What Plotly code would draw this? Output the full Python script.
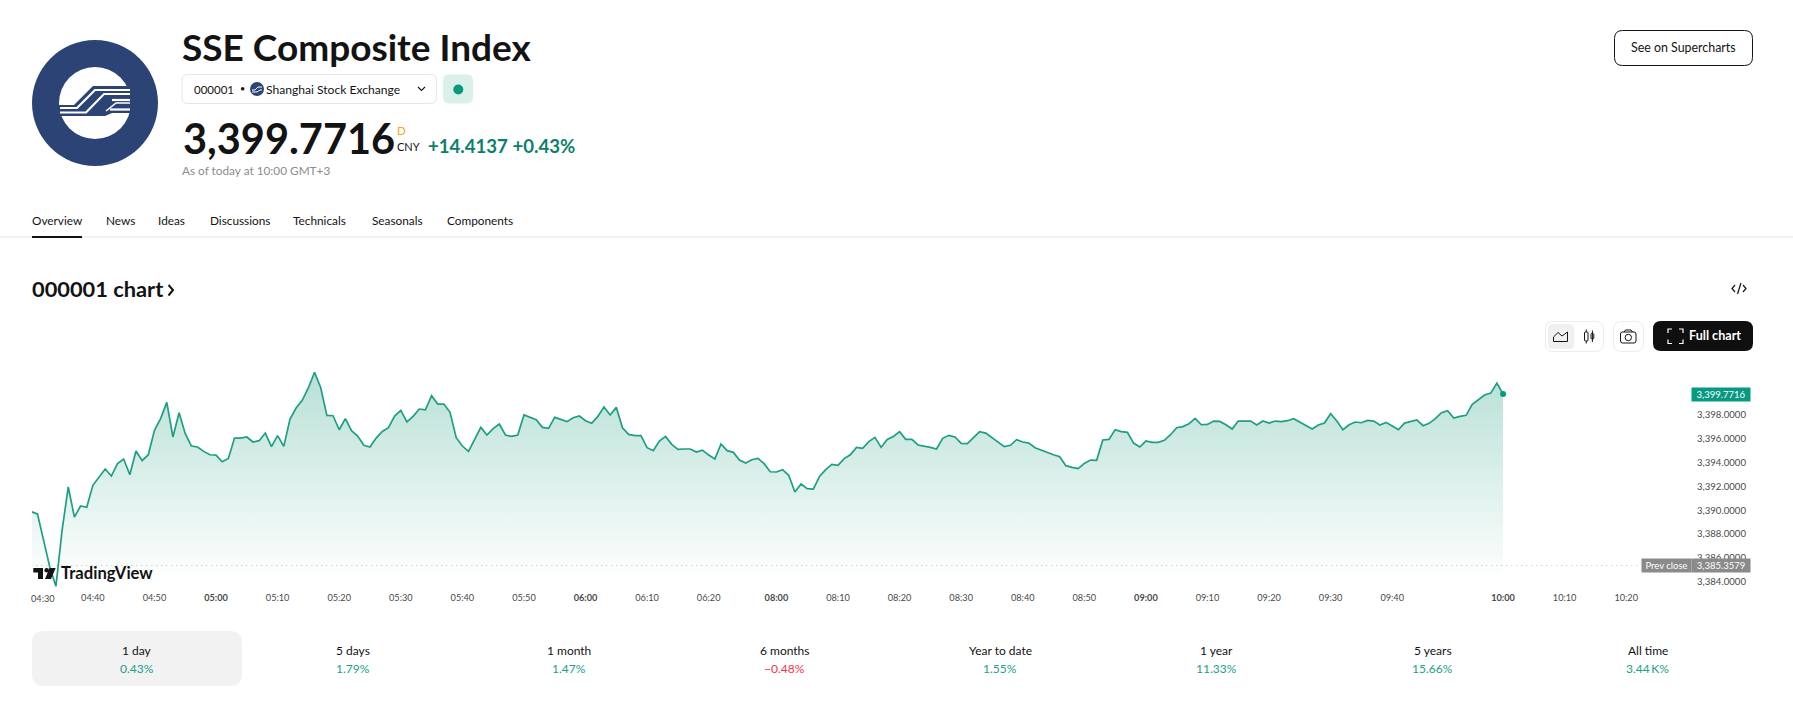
import plotly.graph_objects as go

W, H = 1793, 713

# one close per traded minute, 04:30 to 10:00 GMT+3 (lunch break is skipped by the bar axis)
closes = [
    3389.88, 3389.69, 3387.47, 3385.23, 3383.61, 3388.31, 3391.96, 3389.43, 3390.36, 3390.25,
    3392.10, 3392.80, 3393.47, 3392.88, 3393.92, 3394.31, 3392.99, 3394.98, 3394.17, 3394.67,
    3396.72, 3397.70, 3399.07, 3396.16, 3398.20, 3396.44, 3395.40, 3395.32, 3394.95, 3394.67,
    3394.64, 3394.08, 3394.36, 3396.07, 3396.07, 3396.16, 3395.74, 3395.85, 3396.49, 3395.35,
    3396.27, 3395.37, 3397.64, 3398.59, 3399.24, 3400.30, 3401.59, 3400.30, 3397.98, 3397.95,
    3396.77, 3397.70, 3396.69, 3396.24, 3395.46, 3395.32, 3396.07, 3396.63, 3396.94, 3397.92,
    3398.40, 3397.42, 3397.89, 3398.51, 3398.45, 3399.63, 3398.93, 3398.93, 3398.23, 3396.10,
    3395.40, 3394.95, 3395.93, 3396.97, 3396.33, 3396.86, 3397.25, 3396.33, 3396.21, 3396.33,
    3398.01, 3397.78, 3397.61, 3396.97, 3396.89, 3397.81, 3397.64, 3397.45, 3397.78, 3397.92,
    3397.53, 3397.31, 3397.89, 3398.68, 3398.01, 3398.65, 3396.94, 3396.38, 3396.27, 3396.27,
    3395.26, 3395.01, 3395.82, 3396.21, 3395.54, 3395.12, 3395.15, 3395.15, 3394.90, 3395.06,
    3394.64, 3394.31, 3395.57, 3395.01, 3394.87, 3394.22, 3393.97, 3394.25, 3394.36, 3393.92,
    3393.24, 3393.22, 3393.41, 3392.94, 3391.54, 3392.21, 3391.82, 3391.79, 3392.85, 3393.41,
    3393.86, 3393.78, 3394.34, 3394.67, 3395.29, 3395.20, 3395.77, 3396.13, 3395.29, 3395.96,
    3396.21, 3396.61, 3395.96, 3395.96, 3395.49, 3395.40, 3395.29, 3395.15, 3396.05, 3396.30,
    3396.16, 3395.63, 3395.60, 3396.10, 3396.61, 3396.49, 3396.13, 3395.71, 3395.35, 3395.46,
    3395.93, 3395.74, 3395.65, 3395.26, 3395.04, 3394.84, 3394.67, 3394.50, 3393.75, 3393.61,
    3393.50, 3393.94, 3394.22, 3394.20, 3395.91, 3395.96, 3396.77, 3396.61, 3396.55, 3395.65,
    3395.32, 3395.82, 3395.71, 3395.71, 3395.88, 3396.35, 3396.94, 3397.03, 3397.28, 3397.73,
    3397.19, 3397.22, 3397.50, 3397.47, 3397.19, 3396.83, 3397.50, 3397.50, 3397.50, 3397.17,
    3397.50, 3397.33, 3397.50, 3397.45, 3397.53, 3397.70, 3397.42, 3397.11, 3396.83, 3397.17,
    3397.33, 3398.12, 3397.50, 3396.77, 3397.19, 3397.42, 3397.36, 3397.56, 3397.50, 3397.17,
    3397.39, 3397.08, 3396.77, 3397.33, 3397.45, 3397.59, 3397.11, 3397.31, 3397.70, 3398.20,
    3398.37, 3397.75, 3397.89, 3397.98, 3398.90, 3399.29, 3399.69, 3399.85, 3400.69, 3399.7716,
]
prev_close = 3385.3579

tick_bars = [10, 20, 30, 40, 50, 60, 70, 80, 90, 100, 110, 121, 131, 141, 151, 161, 171, 181,
             191, 201, 211, 221, 239, 249, 259]
tick_labels = ['04:40', '04:50', '<b>05:00</b>', '05:10', '05:20', '05:30', '05:40', '05:50',
               '<b>06:00</b>', '06:10', '06:20', '<b>08:00</b>', '08:10', '08:20', '08:30', '08:40',
               '08:50', '<b>09:00</b>', '09:10', '09:20', '09:30', '09:40', '<b>10:00</b>', '10:10', '10:20']
price_ticks = [3384, 3386, 3388, 3390, 3392, 3394, 3396, 3398, 3400]

tab_names = ['Overview', 'News', 'Ideas', 'Discussions', 'Technicals', 'Seasonals', 'Components']
tab_left = [32, 106, 158, 210, 293, 372, 447]
period_names = ['1 day', '5 days', '1 month', '6 months', 'Year to date', '1 year', '5 years', 'All time']
period_vals = ['0.43%', '1.79%', '1.47%', '−0.48%', '1.55%', '11.33%', '15.66%', '3.44\u2009K%']
period_x = [136.6, 353, 569, 784.7, 1000, 1216.6, 1432.5, 1647.7]

FONT = 'Lato'
INK = '#131313'
GREEN = '#089981'
NAVY = '#2b4475'

# bar axis is linear in pixels: px = 31.3 + 6.158 * bar
PLOT_L, PLOT_R, PLOT_T, PLOT_B = 32, 1696, 345, 587
bar_of = lambda px: (px - 31.3) / 6.158
val_of = lambda py: 3398 - (py - 415.1) / 11.9
fx = lambda px: px / W
fy = lambda py: 1 - py / H

bars = list(range(len(closes)))
y_low, y_high = val_of(PLOT_B), val_of(PLOT_T)

fig = go.Figure()
fig.add_trace(go.Scatter(x=bars, y=[y_low] * len(bars), mode='lines', line=dict(width=0), showlegend=False))
fig.add_trace(go.Scatter(
    x=bars, y=closes, mode='lines', line=dict(width=0), fill='tonexty', showlegend=False,
    fillgradient=dict(type='vertical', start=val_of(582), stop=val_of(345),
                      colorscale=[[0, '#ffffff'], [1, '#aedcd0']]),
    ))
fig.add_trace(go.Scatter(
    x=[0, bar_of(1641)], y=[prev_close, prev_close], mode='lines',
    line=dict(width=1, color='#bdbdbd', dash='1px,4px'), showlegend=False,
    ))
fig.add_trace(go.Scatter(x=bars, y=closes, mode='lines', line=dict(width=1.7, color='#1f9e86'), showlegend=False))
fig.add_trace(go.Scatter(
    x=[bars[-1]], y=[closes[-1]], mode='markers', marker=dict(size=6, color=GREEN), showlegend=False,
    ))

annots = []
def text(s, x, y, size, color=INK, anchor='left', weight=400):
    # annotations carry a little padding on the left
    annots.append(dict(
        text=s, x=fx(x - 2 if anchor == 'left' else x), y=fy(y), xref='paper', yref='paper', xanchor=anchor, yanchor='middle',
        showarrow=False, font=dict(family=FONT, size=size, color=color, weight=weight),
        ))

def tag(s, value, left, right, color):
    annots.append(dict(
        text=s, x=fx(left), y=value, xref='paper', yref='y', xanchor='left', yanchor='middle',
        width=right - left, height=13, bgcolor=color, borderpad=0, align='center', showarrow=False,
        font=dict(family=FONT, size=9.5, color='#ffffff'),
        ))

shapes = []
def poly(pts, fill=None, stroke=None, lw=1, close=True, layer='above'):
    d = 'M' + ' L'.join(f'{fx(x):.5f},{fy(y):.5f}' for x, y in pts) + (' Z' if close else '')
    shapes.append(dict(
        type='path', path=d, xref='paper', yref='paper', layer=layer,
        fillcolor=fill or 'rgba(0,0,0,0)', line=dict(color=stroke or 'rgba(0,0,0,0)', width=lw if stroke else 0),
        ))

def disc(cx, cy, r, fill=None, stroke=None, lw=1):
    shapes.append(dict(
        type='circle', xref='paper', yref='paper', layer='above',
        x0=fx(cx - r), x1=fx(cx + r), y0=fy(cy + r), y1=fy(cy - r),
        fillcolor=fill or 'rgba(0,0,0,0)', line=dict(color=stroke or 'rgba(0,0,0,0)', width=lw if stroke else 0),
        ))

def rrect(x0, y0, x1, y1, r, fill=None, stroke=None, lw=1):
    X0, X1, Y0, Y1 = fx(x0), fx(x1), fy(y0), fy(y1)
    rx, ry = r / W, r / H
    d = (f'M{X0 + rx:.5f},{Y0:.5f} L{X1 - rx:.5f},{Y0:.5f} Q{X1:.5f},{Y0:.5f} {X1:.5f},{Y0 - ry:.5f} '
         f'L{X1:.5f},{Y1 + ry:.5f} Q{X1:.5f},{Y1:.5f} {X1 - rx:.5f},{Y1:.5f} '
         f'L{X0 + rx:.5f},{Y1:.5f} Q{X0:.5f},{Y1:.5f} {X0:.5f},{Y1 + ry:.5f} '
         f'L{X0:.5f},{Y0 - ry:.5f} Q{X0:.5f},{Y0:.5f} {X0 + rx:.5f},{Y0:.5f} Z')
    shapes.append(dict(
        type='path', path=d, xref='paper', yref='paper', layer='above',
        fillcolor=fill or 'rgba(0,0,0,0)', line=dict(color=stroke or 'rgba(0,0,0,0)', width=lw if stroke else 0),
        ))

# SSE logo
disc(95, 103, 63, NAVY)
disc(95, 103, 36, '#ffffff')
poly([(59, 105), (74, 105), (93, 86), (131, 86), (131, 113), (112, 113), (105, 116), (59, 116)], NAVY)
poly([(60, 108), (77, 108), (95, 90), (130, 90)], stroke='#ffffff', lw=2.2, close=False)
poly([(60, 112.5), (86, 112.5), (104, 94), (130, 94)], stroke='#ffffff', lw=2.2, close=False)
poly([(112, 100), (130, 100)], stroke='#ffffff', lw=2.2, close=False)
poly([(106, 111), (116, 103), (130, 103)], stroke='#ffffff', lw=1.6, close=False)
poly([(110, 109.5), (130, 109.5)], stroke='#ffffff', lw=2.2, close=False)

# header
text('SSE Composite Index', 182, 47, 37, INK, weight=700)
rrect(182, 74.5, 436.5, 103.5, 6, '#ffffff', '#e6e6e6')
text('000001', 194, 89, 11.5)
text('•', 240, 88.5, 9)
disc(257, 89, 7, NAVY)
poly([(252, 90), (255, 90), (258, 87), (262, 87)], stroke='#ffffff', lw=1, close=False)
poly([(252, 92), (257, 92), (260, 90), (262, 90)], stroke='#ffffff', lw=1, close=False)
text('Shanghai Stock Exchange', 266, 89, 12.1)
poly([(418, 87), (421.5, 90.5), (425, 87)], stroke=INK, lw=1.1, close=False)
rrect(443, 74.5, 473, 103.5, 6, '#daf0ea')
disc(458.3, 89.5, 5, GREEN)
text('3,399.7716', 183, 138, 41.5, INK, weight=700)
text('D', 397, 130, 11.5, '#f5a623')
text('CNY', 397, 147, 11)
text('+14.4137 +0.43%', 428, 146, 18.6, '#0b7f6c', weight=700)
text('As of today at 10:00 GMT+3', 182, 170, 11.8, '#8c8c8c')
rrect(1614.5, 30.5, 1752.5, 65.5, 8, '#ffffff', '#131313')
text('See on Supercharts', 1683.7, 47.7, 12.4, anchor='center')

# tabs
for name, left in zip(tab_names, tab_left):
    text(name, left, 220, 11.8)
poly([(0, 237), (W, 237)], stroke='#e4e4e4', lw=1, close=False)
poly([(32, 237), (82, 237)], stroke=INK, lw=2, close=False)

# chart heading and toolbar
text('000001 chart', 32, 288.5, 21.8, INK, weight=700)
poly([(168.5, 285), (173, 290), (168.5, 295.5)], stroke=INK, lw=2, close=False)
poly([(1735, 285), (1732, 288.5), (1735, 292)], stroke=INK, lw=1.2, close=False)
poly([(1743, 285), (1746, 288.5), (1743, 292)], stroke=INK, lw=1.2, close=False)
poly([(1741, 283), (1737.5, 294)], stroke=INK, lw=1.2, close=False)
rrect(1545.5, 321.5, 1603.5, 351.5, 8, '#ffffff', '#ececec')
rrect(1548, 324, 1574, 349, 5, '#f0f0f0')
poly([(1553.5, 341.5), (1567.5, 341.5), (1567.5, 332), (1562, 336), (1558, 332.5), (1553.5, 337)], stroke=INK, lw=1)
rrect(1584.5, 332, 1588, 341, 1, None, INK)
poly([(1586.2, 329.5), (1586.2, 332)], stroke=INK, close=False)
poly([(1586.2, 341), (1586.2, 343.5)], stroke=INK, close=False)
rrect(1591, 333.5, 1593.8, 339, 1, None, INK)
poly([(1592.4, 330.5), (1592.4, 342)], stroke=INK, close=False)
rrect(1613.5, 321.5, 1643.5, 351.5, 8, '#ffffff', '#ececec')
rrect(1620.5, 332, 1636, 343, 2, None, INK)
poly([(1624, 332), (1625.5, 330), (1631, 330), (1632.5, 332)], stroke=INK, close=False)
disc(1628.3, 337.5, 3.2, None, INK)
rrect(1653, 321, 1753, 351, 8, '#0f0f0f')
for cx, cy, sx, sy in [(1668, 329, 1, 1), (1683, 329, -1, 1), (1668, 343.5, 1, -1), (1683, 343.5, -1, -1)]:
    poly([(cx, cy + 4 * sy), (cx, cy), (cx + 4 * sx, cy)], stroke='#ffffff', lw=1.2, close=False)
text('Full chart', 1689, 335.5, 12.6, '#ffffff', weight=700)

# TradingView watermark
poly([(33.3, 568), (43, 568), (43, 579), (38, 579), (38, 572.5), (33.3, 572.5)], INK)
disc(46.7, 570.3, 2.3, INK)
poly([(49.5, 568), (55.7, 568), (51, 579), (45, 579)], INK)
text('TradingView', 61, 573, 16.6, INK, weight=700)
text('04:30', 42.7, 598, 9.2, '#4a4a4a', anchor='center')

# price tags
tag(f'{closes[-1]:,.4f}', closes[-1], 1691, 1749, GREEN)
tag('Prev close', prev_close, 1641, 1690, '#8a8a8a')
tag(f'{prev_close:,.4f}', prev_close, 1691, 1749, '#8a8a8a')

# period strip
rrect(32, 631, 242, 686, 12, '#f2f2f2')
for name, val, x in zip(period_names, period_vals, period_x):
    text(name, x, 650, 12, anchor='center')
    text(val, x, 668, 12, '#f23645' if val.startswith('−') else '#22a08a', anchor='center')

fig.update_layout(
    width=W, height=H, margin=dict(l=0, r=0, t=0, b=0), paper_bgcolor='#ffffff', plot_bgcolor='#ffffff',
    showlegend=False, hovermode=False,
    font=dict(family=FONT),
    xaxis=dict(
        domain=[fx(PLOT_L), fx(PLOT_R)], range=[bar_of(PLOT_L), bar_of(PLOT_R)], showgrid=False, zeroline=False,
        showline=False, ticks='', tickmode='array', tickvals=tick_bars, ticktext=tick_labels, tickangle=0,
        tickfont=dict(size=9.2, color='#4a4a4a'), ticklabelstandoff=4,
        ),
    yaxis=dict(
        domain=[fy(PLOT_B), fy(PLOT_T)], range=[y_low, y_high], side='right', showgrid=False, zeroline=False,
        showline=False, ticks='', tickmode='array', tickvals=price_ticks,
        ticktext=[f'{v:,.4f}' for v in price_ticks], tickfont=dict(size=9.6, color='#4a4a4a'),
        ),
    annotations=annots, shapes=shapes,
    )
fig.write_html('out.html', config=dict(displayModeBar=False), post_script="document.body.style.margin='0';")
